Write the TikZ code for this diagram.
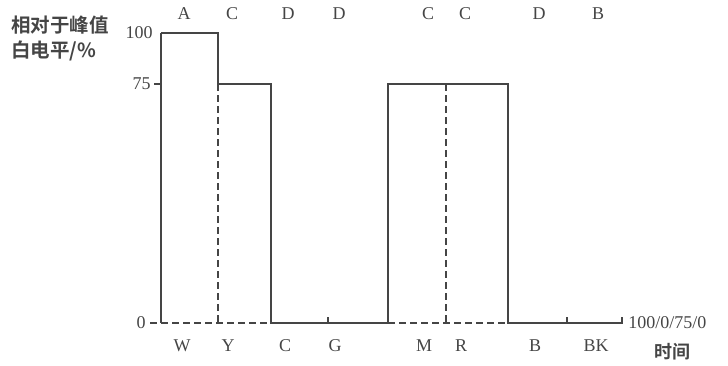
\documentclass[tikz,border=0pt]{standalone}
\usepackage{fontspec}
\setmainfont{Liberation Serif}
\newfontfamily\cjk{Noto Sans CJK SC}[BoldFont={Noto Sans CJK SC Bold}]
\definecolor{ink}{HTML}{454545}

\begin{document}
\begin{tikzpicture}[x=1pt, y=-1pt, thick,
    wave/.style = {draw=ink, line width=1.8pt, line join=miter},
    axis/.style = {draw=ink, line width=1.1pt},
    gap/.style = {draw=ink, line width=1.1pt, dash pattern=on 7pt off 4pt},
    lab/.style = {text=ink, font=\fontsize{18}{18}\selectfont, inner sep=0pt},
    zh/.style = {text=ink, font=\cjk\bfseries\fontsize{19.5}{22}\selectfont, inner sep=0pt}]
        \useasboundingbox (0,0) rectangle (728,365);
        % corners of the signal
        \coordinate (w0) at (161,323);
        \coordinate (w1) at (161,33);
        \coordinate (w2) at (218,33);
        \coordinate (w3) at (218,84);
        \coordinate (w4) at (271,84);
        \coordinate (w5) at (271,323);
        \coordinate (w6) at (388,323);
        \coordinate (w7) at (388,84);
        \coordinate (w8) at (446,84);
        \coordinate (w9) at (508,84);
        \coordinate (w10) at (508,323);
        \coordinate (w11) at (622,323);
        \coordinate (y3) at (218,323);
        \coordinate (y8) at (446,323);
        \coordinate (t0) at (150,323);
        \coordinate (t75) at (154,84);
        \coordinate (g) at (328,323);
        \coordinate (b) at (567,323);
        \draw[axis] (w0) -- (w1);
        \draw[wave] (w1) -- (w2) -- (w3) -- (w4) -- (w5) -- (w6) -- (w7) -- (w9) -- (w10) -- (w11) -- ++(0,-6);
        \draw[gap] (w3) -- (y3);
        \draw[gap] (w8) -- (y8);
        \draw[gap] (t0) -- (w5);
        \draw[gap] (w6) -- (w10);
        \draw[axis] (t75) -- (161,84);
        \draw[axis] (g) -- ++(0,-6);
        \draw[axis] (b) -- ++(0,-6);
        % scale
        \node[lab, anchor=east] (v100) at (153,33) {100};
        \node[lab, anchor=east] (v75) at (151,84) {75};
        \node[lab, anchor=east] (v0) at (146,323) {0};
        \node[lab, anchor=west] (vend) at (628,323) {100/0/75/0};
        \node[zh, anchor=west] (ytitle) at (11,25) {相对于峰值};
        \node[zh, anchor=west] (yunit) at (11,51) {白电平/\%};
        \node[zh, font=\cjk\bfseries\fontsize{18}{22}\selectfont] (time) at (672,352) {时间};
        % bars above
        \node[lab] (tA) at (184,14) {A};
        \node[lab] (tC1) at (232,14) {C};
        \node[lab] (tD1) at (288,14) {D};
        \node[lab] (tD2) at (339,14) {D};
        \node[lab] (tC2) at (428,14) {C};
        \node[lab] (tC3) at (465,14) {C};
        \node[lab] (tD3) at (539,14) {D};
        \node[lab] (tB) at (598,14) {B};
        % colours below
        \node[lab] (cW) at (182,346) {W};
        \node[lab] (cY) at (228,346) {Y};
        \node[lab] (cC) at (285,346) {C};
        \node[lab] (cG) at (335,346) {G};
        \node[lab] (cM) at (424,346) {M};
        \node[lab] (cR) at (461,346) {R};
        \node[lab] (cB) at (535,346) {B};
        \node[lab] (cBK) at (596,346) {BK};
    \end{tikzpicture}
\end{document}
